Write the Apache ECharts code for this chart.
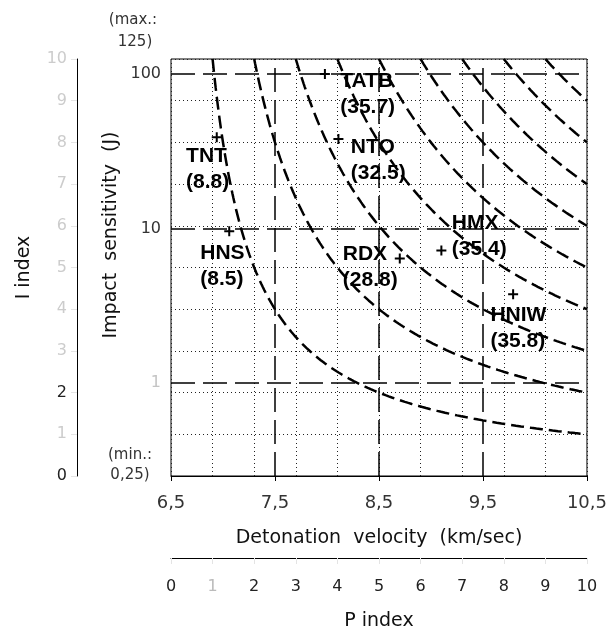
<!DOCTYPE html>
<html>
<head>
<meta charset="utf-8">
<script src="https://cdn.jsdelivr.net/npm/echarts@6/dist/echarts.min.js"></script>
<style>
html,body{margin:0;padding:0;background:#fff;}
#chart{width:610px;height:636px;}
</style>
</head>
<body>
<div id="chart"></div>
<script>
// ---- data ----
const compounds = ['TNT', 'HNS', 'TATB', 'NTO', 'RDX', 'HMX', 'HNIW'];
const velocities = [6.94, 7.06, 7.98, 8.11, 8.70, 9.10, 9.79];        // km/s
const sensitivities = [39, 9.6, 100, 38, 6.4, 7.2, 3.75];             // J
const piValues = ['8.8', '8.5', '35.7', '32.5', '28.8', '35.4', '35.8'];
const isoProducts = [10, 20, 30, 40, 50, 60, 70, 80, 90];              // P x I iso-lines
const velocityTicks = [6.5, 7.5, 8.5, 9.5, 10.5];
const sensitivityTicks = [1, 10, 100];
const faintSensitivityLabel = 1;
const majorVelocities = [7.5, 8.5, 9.5];
const majorSensitivities = [1, 10, 100];
const velocityRange = [6.5, 10.5];
const sensitivityRange = [0.25, 125];
const indexRange = [0, 10];

// ---- label placement (style, not data): offset of label top-left from point ----
const labelOffsets = [[-30.7, 6.3], [-29, 9.3], [15.3, -5.8], [12.4, -4.8], [-57, -17.6], [10.5, -39.9], [-22.7, 7.5]];

const chart = echarts.init(document.getElementById('chart'), null, {renderer: 'canvas'});

const AX = 'DejaVu Sans';
const dotted = {type: [1, 3], color: '#222', width: 1};
const majorDash = {type: [24, 8], color: '#000', width: 1.5};
const near = (a, b) => Math.abs(Number(a) - b) < 1e-6 * Math.max(1, Math.abs(b));

// iso-lines P*I = c in index space (P from c/10 where I = 10, up to P = 10)
const curveSeries = isoProducts.map(c => {
  const pts = [];
  const p0 = c / indexRange[1], p1 = indexRange[1];
  const n = 160;
  for (let k = 0; k <= n; k++) {
    const p = p0 * Math.pow(p1 / p0, k / n);
    pts.push([p, c / p]);
  }
  return {
    type: 'line', xAxisIndex: 1, yAxisIndex: 1, data: pts,
    showSymbol: false, symbol: 'none', silent: true, z: 3,
    lineStyle: {color: '#000', width: 2.5, type: [13, 6]}
  };
});

const pointData = compounds.map((n, i) => ({
  name: n,
  value: [velocities[i], sensitivities[i]],
  label: {position: [labelOffsets[i][0] + 5, labelOffsets[i][1] + 5]}
}));

const sensLabel = v => {
  const t = sensitivityTicks.find(s => near(v, s));
  if (t === undefined) return '';
  return t === faintSensitivityLabel ? '{f|' + t + '}' : '{n|' + t + '}';
};

const option = {
  animation: false,
  backgroundColor: '#fff',
  grid: {left: 171, top: 59, width: 419, height: 419, show: true, borderColor: '#000', borderWidth: 1, backgroundColor: 'transparent'},
  xAxis: [
    {
      type: 'value', min: velocityRange[0], max: velocityRange[1], position: 'bottom',
      axisLine: {show: true, lineStyle: {color: '#000', width: 1}},
      axisTick: {show: true, customValues: velocityTicks, length: 5, lineStyle: {color: '#000'}},
      axisLabel: {customValues: velocityTicks, showMinLabel: true, showMaxLabel: true, margin: 18,
        fontFamily: AX, fontSize: 18, color: '#333', formatter: v => String(v).replace('.', ',')},
      splitLine: {show: false},
      name: 'Detonation  velocity  (km/sec)', nameLocation: 'middle', nameGap: 53,
      nameTextStyle: {fontFamily: AX, fontSize: 19, color: '#111'}
    },
    {
      type: 'value', min: indexRange[0], max: indexRange[1], interval: 1, position: 'bottom', offset: 82,
      axisLine: {show: true, onZero: false, lineStyle: {color: '#000', width: 1}},
      axisTick: {show: true, length: 6, lineStyle: {color: '#e4e4e4'}},
      axisLabel: {margin: 21, fontFamily: AX, fontSize: 16, color: '#222',
        formatter: v => near(v, 1) ? '{f|1}' : String(v), rich: {f: {color: '#bbb', fontFamily: AX, fontSize: 16}}},
      splitLine: {show: true, lineStyle: dotted},
      name: 'P index', nameLocation: 'middle', nameGap: 54,
      nameTextStyle: {fontFamily: AX, fontSize: 19, color: '#111'}
    }
  ],
  yAxis: [
    {
      type: 'log', logBase: 10, min: sensitivityRange[0], max: sensitivityRange[1], position: 'left',
      axisLine: {show: false}, axisTick: {show: false}, splitLine: {show: false},
      axisLabel: {margin: 10, fontFamily: AX, fontSize: 16, color: '#333', showMinLabel: false, showMaxLabel: false,
        formatter: sensLabel,
        rich: {f: {color: '#c4c4c4', fontFamily: AX, fontSize: 16}, n: {color: '#333', fontFamily: AX, fontSize: 16}}}
    },
    {
      type: 'value', min: indexRange[0], max: indexRange[1], interval: 1, position: 'left', offset: 94,
      axisLine: {show: true, onZero: false, lineStyle: {color: '#000', width: 1}},
      axisTick: {show: true, length: 6, lineStyle: {color: '#e4e4e4'}},
      axisLabel: {margin: 10, fontFamily: AX, fontSize: 16, color: '#ccc',
        formatter: v => (near(v, 0) || near(v, 2)) ? '{d|' + v + '}' : String(v),
        rich: {d: {color: '#222', fontFamily: AX, fontSize: 16}}},
      splitLine: {show: true, lineStyle: dotted},
      name: 'I index', nameLocation: 'middle', nameGap: 43, nameRotate: 90,
      nameTextStyle: {fontFamily: AX, fontSize: 19, color: '#111'}
    }
  ],
  series: [
    {
      type: 'line', xAxisIndex: 0, yAxisIndex: 0, data: [], silent: true, z: 2,
      markLine: {
        silent: true, symbol: ['none', 'none'], label: {show: false},
        lineStyle: majorDash,
        data: majorVelocities.map(v => ({xAxis: v})).concat(majorSensitivities.map(s => ({yAxis: s})))
      }
    },
    ...curveSeries,
    {
      type: 'scatter', xAxisIndex: 0, yAxisIndex: 0, z: 5,
      symbol: 'path://M4,0h2v10h-2zM0,4h10v2h-10z', symbolSize: 10,
      itemStyle: {color: '#000', opacity: 1},
      data: pointData,
      label: {
        show: true, align: 'left', verticalAlign: 'top', opacity: 1, textBorderWidth: 0,
        fontFamily: 'Liberation Sans, Arial, sans-serif', fontWeight: 'bold', fontSize: 21, lineHeight: 26, color: '#000',
        formatter: p => p.name + '\n(' + piValues[p.dataIndex] + ')'
      }
    }
  ],
  graphic: [
    {type: 'text', x: 133, y: 20, style: {text: '(max.:', font: '15px DejaVu Sans', fill: '#333', align: 'center', verticalAlign: 'middle'}},
    {type: 'text', x: 135, y: 42, style: {text: '125)', font: '15px DejaVu Sans', fill: '#333', align: 'center', verticalAlign: 'middle'}},
    {type: 'text', x: 130, y: 455, style: {text: '(min.:', font: '15px DejaVu Sans', fill: '#333', align: 'center', verticalAlign: 'middle'}},
    {type: 'text', x: 130, y: 475, style: {text: '0,25)', font: '15px DejaVu Sans', fill: '#333', align: 'center', verticalAlign: 'middle'}},
    {type: 'text', x: 111, y: 235, rotation: Math.PI / 2,
      style: {text: 'Impact  sensitivity  (J)', font: '19px DejaVu Sans', fill: '#111', align: 'center', verticalAlign: 'middle'}}
  ]
};

chart.setOption(option);
</script>
</body>
</html>
